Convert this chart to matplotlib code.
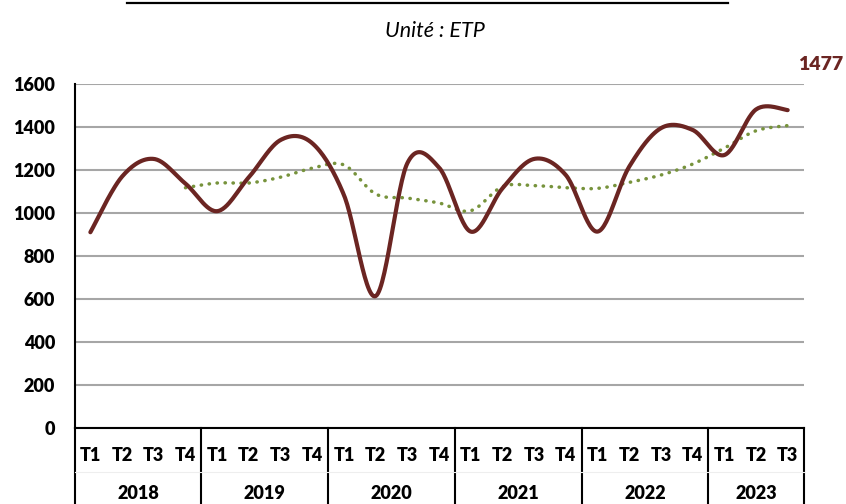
import numpy as np
import matplotlib.pyplot as plt
from matplotlib.lines import Line2D

plt.rcParams['font.family'] = ['Lato', 'DejaVu Sans']

# Données
years = ['2018', '2019', '2020', '2021', '2022', '2023']
quarters = [['T1', 'T2', 'T3', 'T4']] * 5 + [['T1', 'T2', 'T3']]
emploi = [909, 1168, 1250, 1135,
          1007, 1165, 1338, 1323,
          1082, 612, 1230, 1210,
          912, 1113, 1250, 1175,
          912, 1214, 1393, 1385,
          1268, 1480, 1477]
# moyenne mobile (commence au T4 2018)
moy_mobile = [1116,
              1138, 1138, 1165, 1207,
              1222, 1087, 1068, 1045,
              1009, 1121, 1126, 1116,
              1113, 1141, 1175, 1226,
              1300, 1381, 1405]

RED = '#6B2522'
GREEN = '#77933C'
FW = 'heavy'


def lissage(x, y, n=30):
    # courbe lissée type Excel (Bezier / Catmull-Rom)
    x = np.asarray(x, float)
    y = np.asarray(y, float)
    P = np.column_stack([x, y])
    P = np.vstack([P[0], P, P[-1]])
    out = []
    t = np.linspace(0, 1, n)[:, None]
    for i in range(1, len(P) - 2):
        p0, p1 = P[i], P[i + 1]
        c1 = p0 + (P[i + 1] - P[i - 1]) / 6
        c2 = p1 - (P[i + 2] - P[i]) / 6
        seg = ((1 - t) ** 3 * p0 + 3 * (1 - t) ** 2 * t * c1
               + 3 * (1 - t) * t ** 2 * c2 + t ** 3 * p1)
        out.append(seg if i == 1 else seg[1:])
    out = np.vstack(out)
    return out[:, 0], out[:, 1]


fig = plt.figure(figsize=(8.46, 5.04), dpi=100)
ax = fig.add_axes([0.0881, 0.1514, 0.8617, 0.6826])

n = len(emploi)
x = np.arange(n)
start = n - len(moy_mobile)

xs, ys = lissage(x[start:], moy_mobile)
ax.plot(xs, ys, color=GREEN, lw=2.5, linestyle=(0, (0.1, 2.2)),
        dash_capstyle='round', zorder=3)
xs, ys = lissage(x, emploi)
ax.plot(xs, ys, color=RED, lw=3.0, solid_capstyle='round', zorder=4)

ax.set_xlim(-0.5, n - 0.5)
ax.set_ylim(0, 1600)
ax.set_yticks(np.arange(0, 1601, 200))
ax.set_yticklabels([str(v) for v in range(0, 1601, 200)],
                   fontsize=13, fontweight=FW)
ax.tick_params(axis='y', length=0, pad=14)
ax.set_xticks([])
ax.yaxis.grid(True, color='#A6A6A6', lw=1.5)
ax.set_axisbelow(True)
for s in ['top', 'right']:
    ax.spines[s].set_visible(False)
ax.spines['left'].set_linewidth(1.5)
ax.spines['bottom'].set_linewidth(1.5)
ax.spines['left'].set_bounds(0, 1600)

# axe des catégories sur deux niveaux
trans = ax.get_xaxis_transform()
bottom = -0.225
ax.add_line(Line2D([-0.5, -0.5], [0, bottom], transform=trans, color='black',
                   lw=1.5, clip_on=False))
pos = 0
for yr, qs in zip(years, quarters):
    for k, q in enumerate(qs):
        ax.text(pos + k, -0.080, q, transform=trans, ha='center', va='center',
                fontsize=13, fontweight=FW)
    ax.text(pos + (len(qs) - 1) / 2, -0.192, yr, transform=trans,
            ha='center', va='center', fontsize=13, fontweight=FW)
    pos += len(qs)
    ax.add_line(Line2D([pos - 0.5, pos - 0.5], [0, bottom], transform=trans,
                       color='black', lw=1.5, clip_on=False))
ax.add_line(Line2D([-0.5, n - 0.5], [-0.128, -0.128], transform=trans,
                   color='#EEEEEE', lw=0.8, clip_on=False))

# dernière valeur
ax.annotate(str(emploi[-1]), xy=(1.0, 1.0), xycoords='axes fraction',
            xytext=(12, 14), textcoords='offset points', ha='center',
            va='center', fontsize=14, fontweight=FW, color=RED)

# titre (tronqué en haut) et sous-titre
fig.add_artist(Line2D([0.150, 0.860], [0.994, 0.994], color='black', lw=1.6))
fig.text(0.514, 0.938, 'Unité : ETP', ha='center', va='center',
         fontsize=15.5, style='italic')

fig.savefig('out.png', dpi=100)
